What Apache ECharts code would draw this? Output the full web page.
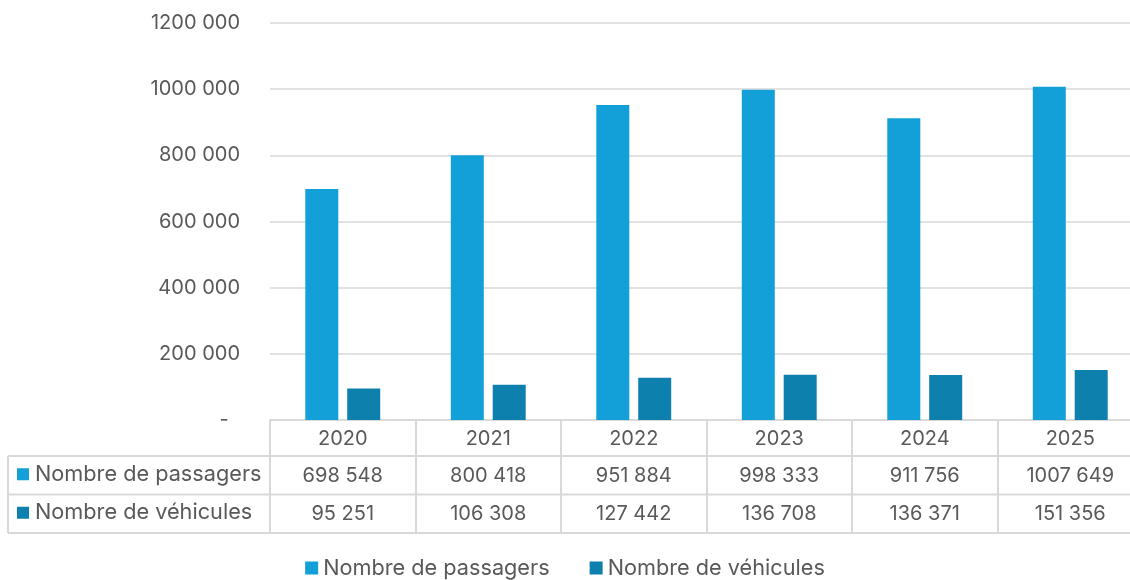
<!DOCTYPE html>
<html>
<head>
<meta charset="utf-8">
<script src="https://cdn.jsdelivr.net/npm/echarts@6/dist/echarts.min.js"></script>
<style>
  html, body { margin: 0; padding: 0; background: #fff; }
  #chart { width: 1130px; height: 580px; }
</style>
</head>
<body>
<div id="chart"></div>
<script>
// données
const years = ['2020', '2021', '2022', '2023', '2024', '2025'];
const seriesNames = ['Nombre de passagers', 'Nombre de véhicules'];
const passagers = [698548, 800418, 951884, 998333, 911756, 1007649];
const vehicules = [95251, 106308, 127442, 136708, 136371, 151356];
const yTicks = [0, 200000, 400000, 600000, 800000, 1000000, 1200000];

const colors = ['#139FD8', '#0E80AE'];
const textColor = '#595959';
const lineColor = '#D9D9D9';
const FONT = 'Inter, "Noto Sans", sans-serif';

// mise en page
const GRID_LEFT = 270;
const GRID_TOP = 23;
const GRID_W = 873;
const GRID_H = 397;
const HEAD_H = 36;
const ROW_H = 38.5;
const TABLE_LEFT = 8;

// format "1200 000" / "698 548"
function fmt(v) {
    if (v === 0) return '-  ';
    if (v < 1000) return String(v);
    const hi = Math.floor(v / 1000);
    const lo = String(v % 1000).padStart(3, '0');
    return hi + ' ' + lo;
}

const chart = echarts.init(document.getElementById('chart'));

const tableTop = GRID_TOP + GRID_H;
const graphics = [];
// lignes horizontales du tableau
for (let r = 0; r < 3; r++) {
    const y = tableTop + HEAD_H + r * ROW_H;
    graphics.push({
        type: 'line',
        shape: { x1: TABLE_LEFT, y1: y, x2: GRID_LEFT + GRID_W, y2: y },
        style: { stroke: lineColor, lineWidth: 2 },
        silent: true
    });
}
// bord gauche
graphics.push({
    type: 'line',
    shape: { x1: TABLE_LEFT, y1: tableTop + HEAD_H, x2: TABLE_LEFT, y2: tableTop + HEAD_H + 2 * ROW_H },
    style: { stroke: lineColor, lineWidth: 2 },
    silent: true
});
// libellés des lignes avec carré de couleur
seriesNames.forEach((name, i) => {
    const cy = tableTop + HEAD_H + ROW_H * i + ROW_H / 2 - 1;
    graphics.push({
        type: 'rect',
        shape: { x: 17, y: cy - 6, width: 12, height: 12 },
        style: { fill: colors[i] },
        silent: true
    });
    graphics.push({
        type: 'text',
        x: 35,
        y: cy,
        style: {
            text: name,
            fill: textColor,
            font: '21.7px ' + FONT,
            verticalAlign: 'middle',
            align: 'left'
        },
        silent: true
    });
});

const option = {
    animation: false,
    textStyle: { fontFamily: FONT },
    grid: {
        left: GRID_LEFT,
        top: GRID_TOP,
        width: GRID_W,
        height: GRID_H,
        outerBoundsMode: 'none'
    },
    legend: {
        data: seriesNames,
        top: 552,
        left: 'center',
        icon: 'rect',
        itemWidth: 13,
        itemHeight: 13,
        itemGap: 40,
        textStyle: { color: textColor, fontSize: 21.7, fontFamily: FONT }
    },
    xAxis: {
        type: 'category',
        data: years,
        axisLine: { lineStyle: { color: lineColor, width: 2 } },
        axisTick: {
            show: true,
            alignWithLabel: false,
            interval: 0,
            length: HEAD_H + 2 * ROW_H,
            lineStyle: { color: lineColor, width: 2 }
        },
        axisLabel: {
            interval: 0,
            margin: 0,
            color: textColor,
            fontSize: 20,
            lineHeight: 37.5,
            verticalAlign: 'top',
            formatter: (v, i) => v + '\n' + fmt(passagers[i]) + '\n' + fmt(vehicules[i])
        }
    },
    yAxis: {
        type: 'value',
        min: yTicks[0],
        max: yTicks[yTicks.length - 1],
        interval: yTicks[1] - yTicks[0],
        axisLine: { show: false },
        axisTick: { show: false },
        splitLine: { lineStyle: { color: lineColor, width: 1.5 } },
        axisLabel: {
            margin: 30,
            color: textColor,
            fontSize: 20,
            formatter: fmt
        }
    },
    series: [
        {
            name: seriesNames[0],
            type: 'bar',
            data: passagers,
            barWidth: 33,
            barGap: '27%',
            itemStyle: { color: colors[0] }
        },
        {
            name: seriesNames[1],
            type: 'bar',
            data: vehicules,
            barWidth: 33,
            itemStyle: { color: colors[1] }
        }
    ],
    graphic: graphics
};

chart.setOption(option);
</script>
</body>
</html>
